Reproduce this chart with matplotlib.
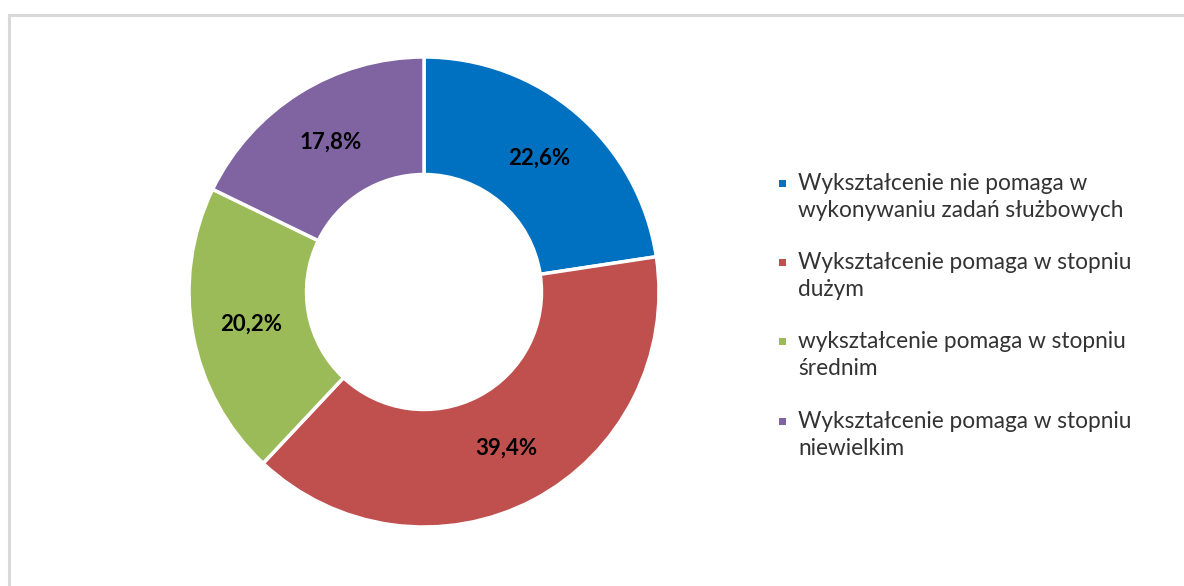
import matplotlib
matplotlib.use("Agg")
import matplotlib.pyplot as plt
from matplotlib.lines import Line2D
from matplotlib.patches import Rectangle

labels = [
    "Wykształcenie nie pomaga w\nwykonywaniu zadań służbowych",
    "Wykształcenie pomaga w stopniu\ndużym",
    "wykształcenie pomaga w stopniu\nśrednim",
    "Wykształcenie pomaga w stopniu\nniewielkim",
]
values = [22.6, 39.4, 20.2, 17.8]
colors = ["#0070C0", "#C0504D", "#9BBB59", "#8064A2"]

W, H = 1184, 586
fig = plt.figure(figsize=(W / 100, H / 100), dpi=100)
fig.patch.set_facecolor("white")

# frame (cropped chart border)
fig.add_artist(Line2D([9 / W, 1.0], [1 - 15 / H, 1 - 15 / H], color="#D9D9D9", lw=2.2,
                      transform=fig.transFigure))
fig.add_artist(Line2D([9 / W, 9 / W], [0, 1 - 15 / H], color="#D9D9D9", lw=2.2,
                      transform=fig.transFigure))

cx, cy, R = 424, 292, 235
ax = fig.add_axes([(cx - R) / W, (H - cy - R) / H, 2 * R / W, 2 * R / H])
wedges, texts, autotexts = ax.pie(
    values, colors=colors, startangle=90, counterclock=False, radius=1,
    wedgeprops=dict(width=0.5, edgecolor="white", linewidth=2.5),
    autopct=lambda p: f"{p:.1f}%".replace(".", ","), pctdistance=0.75,
    textprops=dict(fontfamily="Lato", fontsize=16, fontweight="bold", color="black"),
)
ax.set_xlim(-1, 1)
ax.set_ylim(-1, 1)
ax.set_aspect("equal")
ax.axis("off")

# legend
tx = 798 / W
entry_centers = [197, 276, 355, 435]
for lab, col, yc in zip(labels, colors, entry_centers):
    fig.text(tx, 1 - yc / H, lab, fontfamily="Lato", fontsize=16.3, color="#333333",
             va="center", ha="left", linespacing=1.31)
    first_line_y = yc - 14
    fig.add_artist(Rectangle((779 / W, 1 - (first_line_y + 3.5) / H), 7 / W, 7 / H,
                             facecolor=col, edgecolor="none", transform=fig.transFigure))

fig.savefig("out.png", dpi=100, facecolor="white")
